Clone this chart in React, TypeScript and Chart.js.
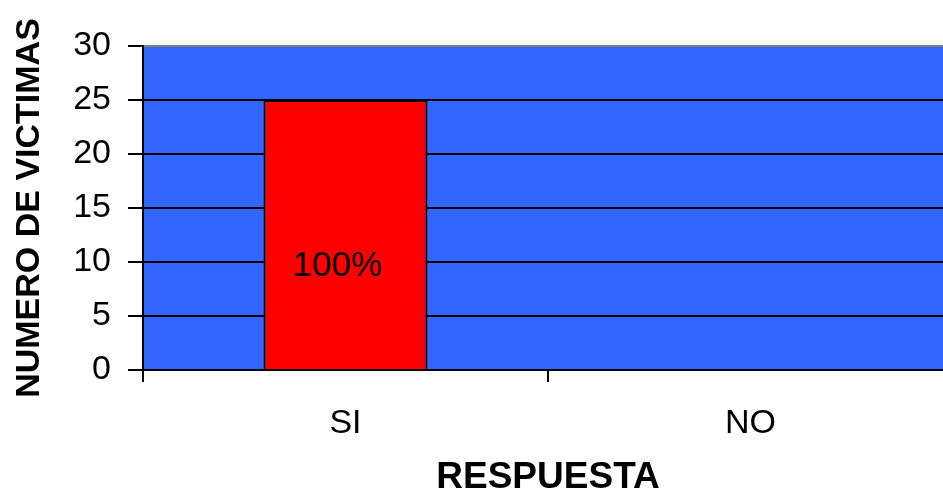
import React, { useEffect, useRef } from "react";
import { Chart, registerables } from "chart.js";

Chart.register(...registerables);

const categories = ["SI", "NO"];
const victimas = [25, 0];
const pctLabels = ["100%", ""];
const yTicks = [0, 5, 10, 15, 20, 25, 30];
const yTitle = "NUMERO DE VICTIMAS";
const xTitle = "RESPUESTA";

const FONT = "'Liberation Sans', Arial, sans-serif";

const plotBg = {
  id: "plotBg",
  beforeDraw(chart: any) {
    const { ctx, chartArea } = chart;
    if (!chartArea) return;
    ctx.save();
    ctx.fillStyle = "#3366FF";
    ctx.fillRect(chartArea.left, chartArea.top, chartArea.right - chartArea.left, chartArea.bottom - chartArea.top);
    ctx.restore();
  },
};

const barLabels = {
  id: "barLabels",
  afterDatasetsDraw(chart: any) {
    const { ctx } = chart;
    const meta = chart.getDatasetMeta(0);
    const yScale = chart.scales.y;
    ctx.save();
    ctx.fillStyle = "#000";
    ctx.font = `35px ${FONT}`;
    ctx.textAlign = "center";
    ctx.textBaseline = "middle";
    meta.data.forEach((el: any, i: number) => {
      const txt = pctLabels[i];
      if (!txt) return;
      const v = victimas[i];
      const y = yScale.getPixelForValue(v * 0.385);
      ctx.fillText(txt, el.x - 8, y);
    });
    ctx.restore();
  },
};

export default function App() {
  const ref = useRef<HTMLCanvasElement | null>(null);
  useEffect(() => {
    if (!ref.current) return;
    const chart = new Chart(ref.current, {
      type: "bar",
      data: {
        labels: categories,
        datasets: [
          {
            data: victimas,
            backgroundColor: "#FF0000",
            borderColor: "#000",
            borderWidth: 2,
            categoryPercentage: 1,
            barPercentage: 0.405,
          },
        ],
      },
      options: {
        animation: false,
        responsive: false,
        maintainAspectRatio: false,
        layout: { padding: { top: 46, left: 0, right: 0, bottom: 0 } },
        plugins: { legend: { display: false }, tooltip: { enabled: false } },
        scales: {
          x: {
            afterFit: (s: any) => {
              s.height = 123;
            },
            grid: {
              drawOnChartArea: false,
              drawTicks: true,
              tickLength: 12,
              color: "#000",
              tickColor: "#000",
              lineWidth: 2,
            },
            border: { display: true, color: "#000", width: 2 },
            ticks: { color: "#000", font: { family: FONT, size: 34 }, padding: 21 },
            title: {
              display: true,
              text: xTitle,
              color: "#000",
              font: { family: FONT, size: 37, weight: "bold", lineHeight: 1 },
              padding: { top: 0, bottom: -3 },
            },
          },
          y: {
            min: 0,
            max: 30,
            afterFit: (s: any) => {
              s.width = 143;
            },
            afterBuildTicks: (s: any) => {
              s.ticks = yTicks.map((v) => ({ value: v }));
            },
            grid: {
              drawTicks: true,
              tickLength: 15,
              lineWidth: 2,
              color: (c: any) => (c.tick && c.tick.value === 30 ? "#7f7f7f" : "#000"),
              tickColor: "#000",
            },
            border: { display: true, color: "#000", width: 2 },
            ticks: { color: "#000", font: { family: FONT, size: 34 }, padding: 17 },
            title: {
              display: true,
              text: yTitle,
              color: "#000",
              font: { family: FONT, size: 34, weight: "bold", lineHeight: 1 },
              padding: { top: 13, bottom: 0 },
            },
          },
        },
      },
      plugins: [plotBg, barLabels],
    });
    return () => chart.destroy();
  }, []);

  return (
    <div style={{ position: "absolute", left: 0, top: 0, width: 943, height: 493, overflow: "hidden", background: "#fff" }}>
      <canvas ref={ref} width={953} height={493} style={{ display: "block", width: 953, height: 493 }} />
    </div>
  );
}
